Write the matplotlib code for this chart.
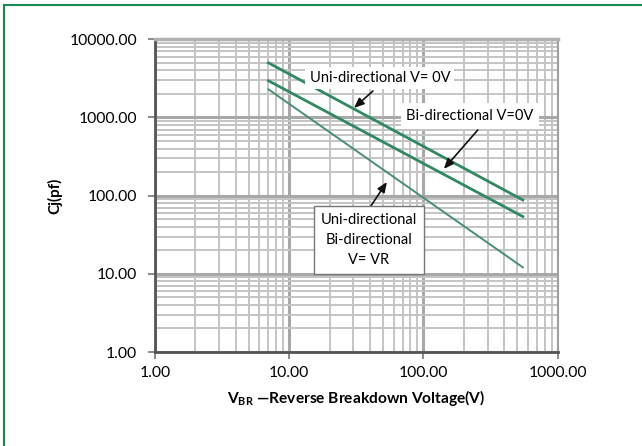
import numpy as np
import matplotlib
matplotlib.use("Agg")
import matplotlib.pyplot as plt
from matplotlib.patches import Rectangle
from matplotlib.ticker import LogLocator, FixedLocator, NullFormatter, FuncFormatter

plt.rcParams['font.family'] = ['Lato', 'DejaVu Sans']
plt.rcParams['mathtext.fontset'] = 'custom'
plt.rcParams['mathtext.rm'] = 'Lato'
plt.rcParams['mathtext.bf'] = 'Lato:bold'

# Data
vbr = [7, 550]
uni_v0 = [5000, 88]
bi_v0 = [2950, 54]
vr = [2290, 12.1]

x_ticks = [1, 10, 100, 1000]
y_ticks = [1, 10, 100, 1000, 10000]

W, H = 642, 446
fig = plt.figure(figsize=(W / 100, H / 100), dpi=100)
ax = fig.add_axes([155 / W, 1 - 352 / H, (557.7 - 155) / W, (352 - 39.3) / H])

ax.set_xscale('log')
ax.set_yscale('log')
ax.set_xlim(1, 1000)
ax.set_ylim(1, 10000)

# grid
ax.xaxis.set_major_locator(FixedLocator(x_ticks))
ax.yaxis.set_major_locator(FixedLocator(y_ticks))
ax.xaxis.set_minor_locator(LogLocator(base=10, subs=np.arange(2, 10)))
ax.yaxis.set_minor_locator(LogLocator(base=10, subs=np.arange(2, 10)))
ax.xaxis.set_minor_formatter(NullFormatter())
ax.yaxis.set_minor_formatter(NullFormatter())
fmt = FuncFormatter(lambda v, p: f"{v:.2f}")
ax.xaxis.set_major_formatter(fmt)
ax.yaxis.set_major_formatter(fmt)
ax.grid(which='major', color='#a8a8a8', linewidth=2.2)
ax.grid(which='minor', color='#c4c4c4', linewidth=1.4)
ax.set_axisbelow(True)
ax.tick_params(which='minor', length=0)
ax.tick_params(which='major', length=5, width=1.2, color='#777777', labelsize=11.3, pad=5)
ax.tick_params(axis='y', pad=8)

for s in ['left', 'bottom']:
    ax.spines[s].set_color('#555555')
    ax.spines[s].set_linewidth(2)
ax.spines['top'].set_color('#b0b0b0')
ax.spines['top'].set_linewidth(2.5)
ax.spines['right'].set_color('#a0a0a0')
ax.spines['right'].set_linewidth(1.5)

# data lines
ax.plot(vbr, uni_v0, color='#2f8a62', linewidth=2.0, zorder=3)
ax.plot(vbr, bi_v0, color='#2f8a62', linewidth=2.0, zorder=3)
ax.plot(vbr, vr, color='#4a8f72', linewidth=1.4, zorder=3)

ax.set_ylabel('Cj(pf)', fontweight='bold', fontsize=11, labelpad=5)
ax.set_xlabel(r'$\mathbf{V_{BR}}$ —Reverse Breakdown Voltage(V)', fontweight='bold',
              fontsize=11.2, labelpad=6)

def px2data(px, py):
    return (10 ** ((px - 154.8) / 134.4), 10 ** (4 - (py - 39.3) / 78.2))

arrow = dict(arrowstyle='-|>,head_length=0.6,head_width=0.25', color='#111111', lw=1.2,
             shrinkA=0, shrinkB=0)

ax.annotate('', xy=px2data(354, 108), xytext=px2data(373, 91), arrowprops=arrow, zorder=5)
ax.annotate('', xy=px2data(444, 169), xytext=px2data(478, 130), arrowprops=arrow, zorder=5)
ax.annotate('', xy=px2data(387, 182), xytext=px2data(371, 206), arrowprops=arrow, zorder=5)

ax.text(*px2data(380, 78), 'Uni-directional V= 0V', ha='center', va='center', fontsize=10.5,
        bbox=dict(facecolor='white', edgecolor='none', pad=3), zorder=6)
ax.text(*px2data(470, 116), 'Bi-directional V=0V', ha='center', va='center', fontsize=10.5,
        bbox=dict(facecolor='white', edgecolor='none', pad=4), zorder=6)
ax.text(*px2data(369, 240), 'Uni-directional\nBi-directional\nV= VR', ha='center', va='center',
        fontsize=10.5, linespacing=1.55,
        bbox=dict(facecolor='white', edgecolor='#777777', linewidth=1.0,
                  boxstyle='square,pad=0.45'), zorder=6)

# outer green frame (top and left visible)
fig.patches.append(Rectangle((3.5 / W, -0.1), 1.2, 1 - 4.5 / H + 0.1, transform=fig.transFigure,
                             fill=False, edgecolor='#1a8a55', linewidth=1.5))

fig.savefig('out.png', dpi=100)
